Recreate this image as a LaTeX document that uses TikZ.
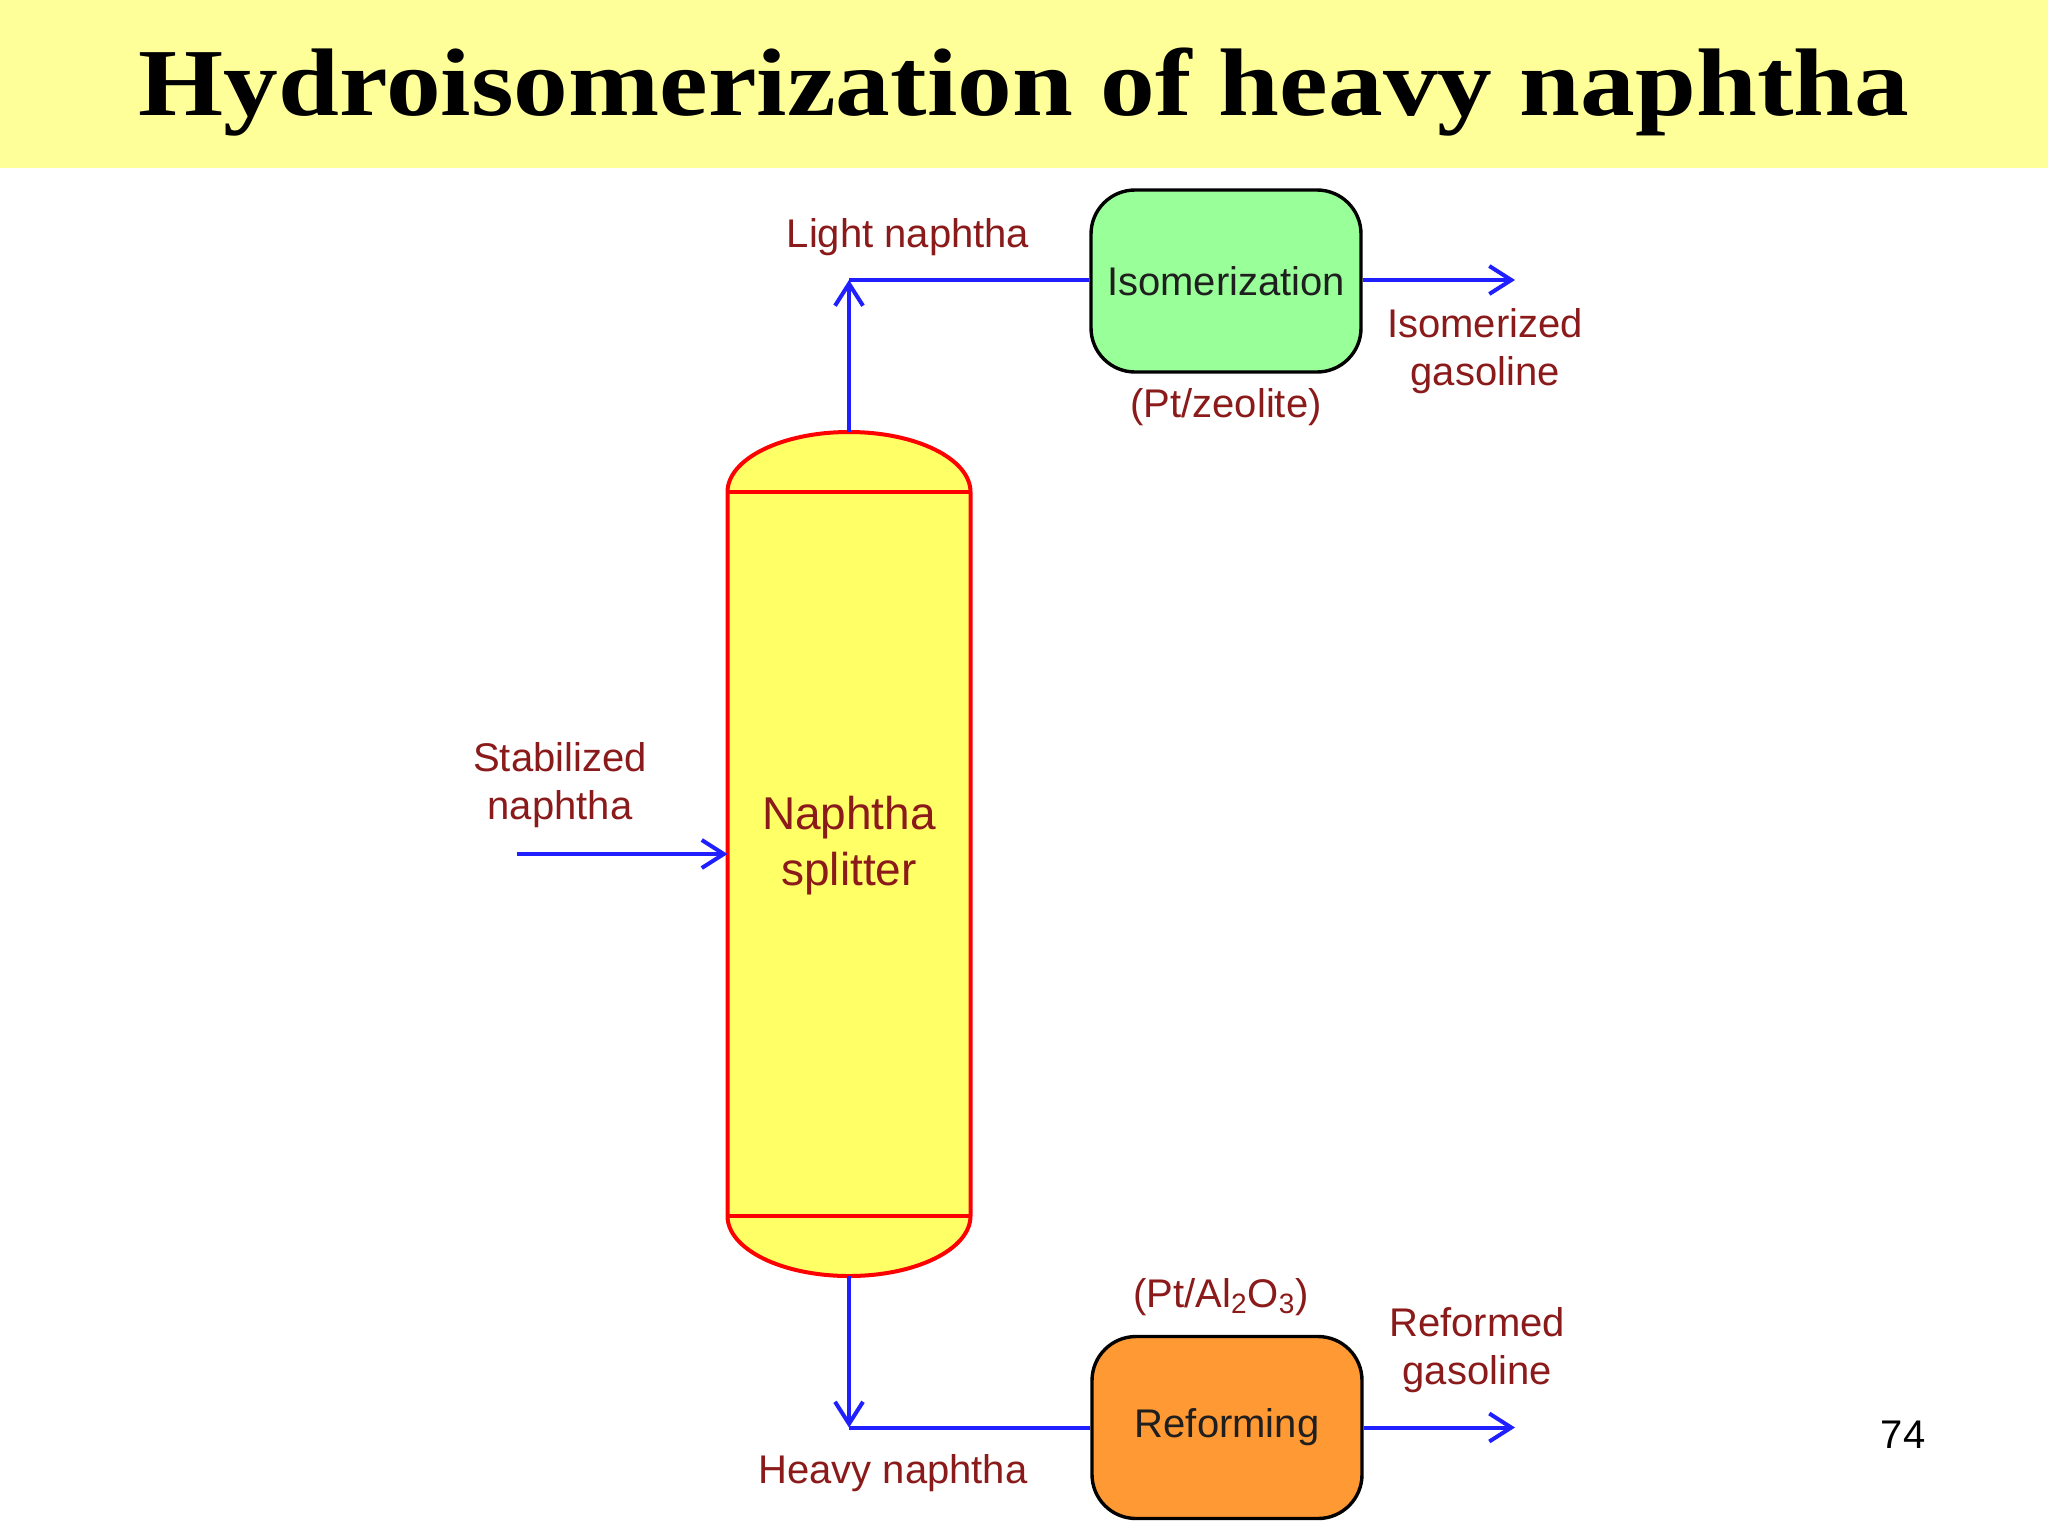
\documentclass[tikz,border=0pt]{standalone}
\usepackage{fontspec}
\usepackage{graphicx}
\setmainfont{Liberation Sans}
\newfontfamily\titlefont{Liberation Serif}
\usetikzlibrary{arrows.meta}
\definecolor{band}{HTML}{FFFF99}
\definecolor{labelred}{HTML}{8B1A1A}
\definecolor{flowblue}{HTML}{1F1FFF}
\definecolor{colfill}{HTML}{FFFF66}
\definecolor{isogreen}{HTML}{99FF99}
\definecolor{reforange}{HTML}{FF9933}
\tikzset{
  flow/.style={draw=flowblue, line width=2pt},
  flowarrow/.style={flow, -{Straight Barb[length=11pt,width=14pt,line width=2pt]}},
  lbl/.style={text=labelred, font=\fontsize{20pt}{24pt}\selectfont, align=center, inner sep=0pt},
  unitbox/.style={draw=black, line width=1.7pt, rounded corners=22pt, minimum width=135pt, minimum height=91pt, inner sep=0pt, text=black!88, font=\fontsize{20pt}{24pt}\selectfont},
  colline/.style={draw=red, line width=2pt},
}
\begin{document}
\begin{tikzpicture}[x=0.5pt,y=-0.5pt]
\useasboundingbox (0,0) rectangle (2048,1536);
\fill[white] (0,0) rectangle (2048,1536);
% title band
\fill[band] (0,0) rectangle (2048,168);
\node[anchor=base, inner sep=0pt] (title) at (1024,115)
  {\scalebox{1.14}[1]{\titlefont\bfseries\fontsize{48pt}{56pt}\selectfont Hydroisomerization of heavy naphtha}};
% column
\filldraw[fill=colfill, colline]
  (727.5,492) arc[start angle=180, end angle=0, x radius=60.75pt, y radius=30pt]
  -- (970.5,1216) arc[start angle=0, end angle=-180, x radius=60.75pt, y radius=30pt]
  -- cycle;
\draw[colline] (727.5,492) -- (970.5,492);
\draw[colline] (727.5,1216) -- (970.5,1216);
\coordinate (ctop) at (849,432);
\coordinate (cbot) at (849,1276);
\coordinate (cfeed) at (727.5,854);
\node[lbl, font=\fontsize{23pt}{28pt}\selectfont] (colname) at (849,846) {Naphtha\\splitter};
% units
\node[unitbox, fill=isogreen] (iso) at (1226,281) {Isomerization};
\node[unitbox, fill=reforange] (ref) at (1227,1427.5) {Reforming};
% connectors
\coordinate (feedstart) at (517,854);
\coordinate (topcorner) at (849,280);
\coordinate (botcorner) at (849,1427.5);
\coordinate (isoout) at (1515,280);
\coordinate (refout) at (1515,1427.5);
\draw[flowarrow] (feedstart) -- (cfeed);
\draw[flowarrow] (ctop) -- (topcorner);
\draw[flow] (topcorner) -- (topcorner -| iso.west);
\draw[flowarrow] (iso.east |- isoout) -- (isoout);
\draw[flowarrow] (cbot) -- (botcorner);
\draw[flow] (botcorner) -- (botcorner -| ref.west);
\draw[flowarrow] (ref.east |- refout) -- (refout);
% labels
\node[lbl] (feedlbl) at (560,785) {Stabilized\\naphtha};
\node[lbl] (lightlbl) at (908,237) {Light naphtha};
\node[lbl] (isocat) at (1226,407) {(Pt/zeolite)};
\node[lbl] (isogas) at (1485,351) {Isomerized\\gasoline};
\node[lbl] (refcat) at (1221,1297) {(Pt/Al\textsubscript{2}O\textsubscript{3})};
\node[lbl] (refgas) at (1477,1350) {Reformed\\gasoline};
\node[lbl] (heavylbl) at (893,1473) {Heavy naphtha};
\node[inner sep=0pt, font=\fontsize{20pt}{24pt}\selectfont] (pagenum) at (1903,1435) {74};
\end{tikzpicture}
\end{document}
